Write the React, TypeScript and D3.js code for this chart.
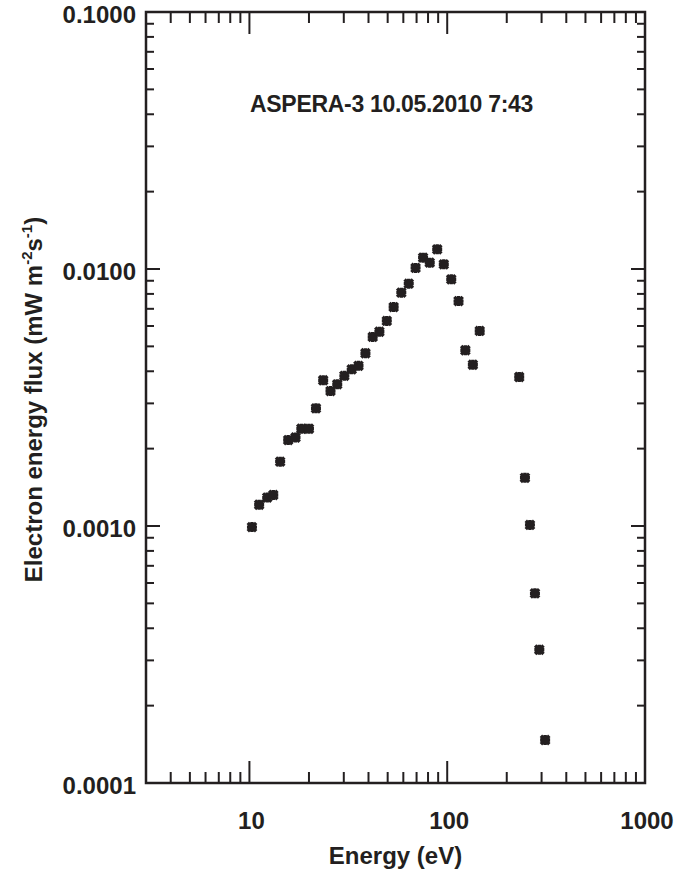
import React from "react";
import * as d3 from "d3";

const energy = [10.3, 11.2, 12.3, 13.2, 14.3, 15.7, 17.1, 18.3, 20.0, 21.7, 23.6, 25.7, 27.8, 30.2, 32.9, 35.6, 38.6, 42.0, 45.4, 49.5, 53.6, 58.6, 63.9, 69.2, 75.5, 81.6, 89.0, 96.1, 104.8, 114.1, 123.5, 134.8, 146.0, 231.2, 247.2, 262.0, 277.7, 292.2, 312.6];
const flux = [0.00099, 0.00121, 0.00129, 0.00132, 0.00178, 0.00216, 0.00221, 0.00239, 0.00239, 0.00287, 0.00369, 0.00335, 0.00356, 0.00384, 0.00407, 0.0042, 0.0047, 0.00544, 0.0057, 0.00628, 0.00711, 0.00809, 0.00877, 0.0101, 0.01107, 0.01058, 0.01193, 0.01043, 0.00912, 0.0075, 0.00483, 0.00424, 0.00574, 0.0038, 0.00154, 0.00101, 0.000547, 0.00033, 0.000147];

const xTickValues = [10, 100, 1000];
const xTickLabels = ["10", "100", "1000"];
const yTickValues = [0.1, 0.01, 0.001, 0.0001];
const yTickLabels = ["0.1000", "0.0100", "0.0010", "0.0001"];
const titleText = "ASPERA-3 10.05.2010 7:43";
const xLabel = "Energy (eV)";

const W = 675, H = 874;
const L = 146, R = 645, T = 12, B = 783;
const ink = "#231f20";
const font = "'Liberation Sans', Arial, Helvetica, sans-serif";

export default function App() {
  const x = d3.scaleLog().domain([3, 1000]).range([L, R]);
  const y = d3.scaleLog().domain([0.0001, 0.1]).range([B, T]);

  const xMinor: number[] = [];
  [1, 10, 100].forEach((d) => {
    for (let k = 2; k <= 9; k++) {
      const v = d * k;
      if (v > 3 && v < 1000) xMinor.push(v);
    }
  });
  const yMinor: number[] = [];
  [0.0001, 0.001, 0.01].forEach((d) => {
    for (let k = 2; k <= 9; k++) yMinor.push(d * k);
  });

  const xMajLen = 22, xMinLen = 11, yMajLen = 14, yMinLen = 8;

  return (
    <svg width={W} height={H} style={{ position: "absolute", left: 0, top: 0, background: "#fff" }}>
      <rect x={0} y={0} width={W} height={H} fill="#fff" />
      <g stroke={ink} strokeWidth={2}>
        {xTickValues.map((v, i) => (
          <g key={"xm" + i}>
            <line x1={x(v)} x2={x(v)} y1={B} y2={B - xMajLen} />
            <line x1={x(v)} x2={x(v)} y1={T} y2={T + xMajLen} />
          </g>
        ))}
        {xMinor.map((v, i) => (
          <g key={"xn" + i}>
            <line x1={x(v)} x2={x(v)} y1={B} y2={B - xMinLen} />
            <line x1={x(v)} x2={x(v)} y1={T} y2={T + xMinLen} />
          </g>
        ))}
        {yTickValues.map((v, i) => (
          <g key={"ym" + i}>
            <line x1={L} x2={L + yMajLen} y1={y(v)} y2={y(v)} />
            <line x1={R} x2={R - yMajLen} y1={y(v)} y2={y(v)} />
          </g>
        ))}
        {yMinor.map((v, i) => (
          <g key={"yn" + i}>
            <line x1={L} x2={L + yMinLen} y1={y(v)} y2={y(v)} />
            <line x1={R} x2={R - yMinLen} y1={y(v)} y2={y(v)} />
          </g>
        ))}
      </g>
      <rect x={L} y={T} width={R - L} height={B - T} fill="none" stroke={ink} strokeWidth={2.5} />

      <g fontFamily={font} fontWeight="bold" fill={ink} fontSize={24}>
        {xTickValues.map((v, i) => (
          <text key={"xl" + i} x={x(v) + 2} y={B + 46} textAnchor="middle">{xTickLabels[i]}</text>
        ))}
        {yTickValues.map((v, i) => (
          <text key={"yl" + i} x={L - 10} y={y(v) + 11} textAnchor="end">{yTickLabels[i]}</text>
        ))}
        <text x={(L + R) / 2} y={864} textAnchor="middle">{xLabel}</text>
        <text transform={`translate(42, ${(T + B) / 2 + 2}) rotate(-90)`} textAnchor="middle">
          Electron energy flux (mW m
          <tspan fontSize={15} dy={-10}>-2</tspan>
          <tspan dy={10}>s</tspan>
          <tspan fontSize={15} dy={-10}>-1</tspan>
          <tspan dy={10}>)</tspan>
        </text>
        <text x={391.5} y={112} textAnchor="middle" fontSize={23} letterSpacing={-0.3}>{titleText}</text>
      </g>

      <g stroke={ink} strokeWidth={3.4} strokeLinecap="butt">
        {energy.map((e, i) => {
          const cx = x(e), cy = y(flux[i]);
          const a = 5, b = 4.2;
          return (
            <path
              key={"p" + i}
              d={`M${cx - a},${cy}L${cx + a},${cy}M${cx},${cy - a}L${cx},${cy + a}M${cx - b},${cy - b}L${cx + b},${cy + b}M${cx - b},${cy + b}L${cx + b},${cy - b}`}
            />
          );
        })}
      </g>
    </svg>
  );
}
